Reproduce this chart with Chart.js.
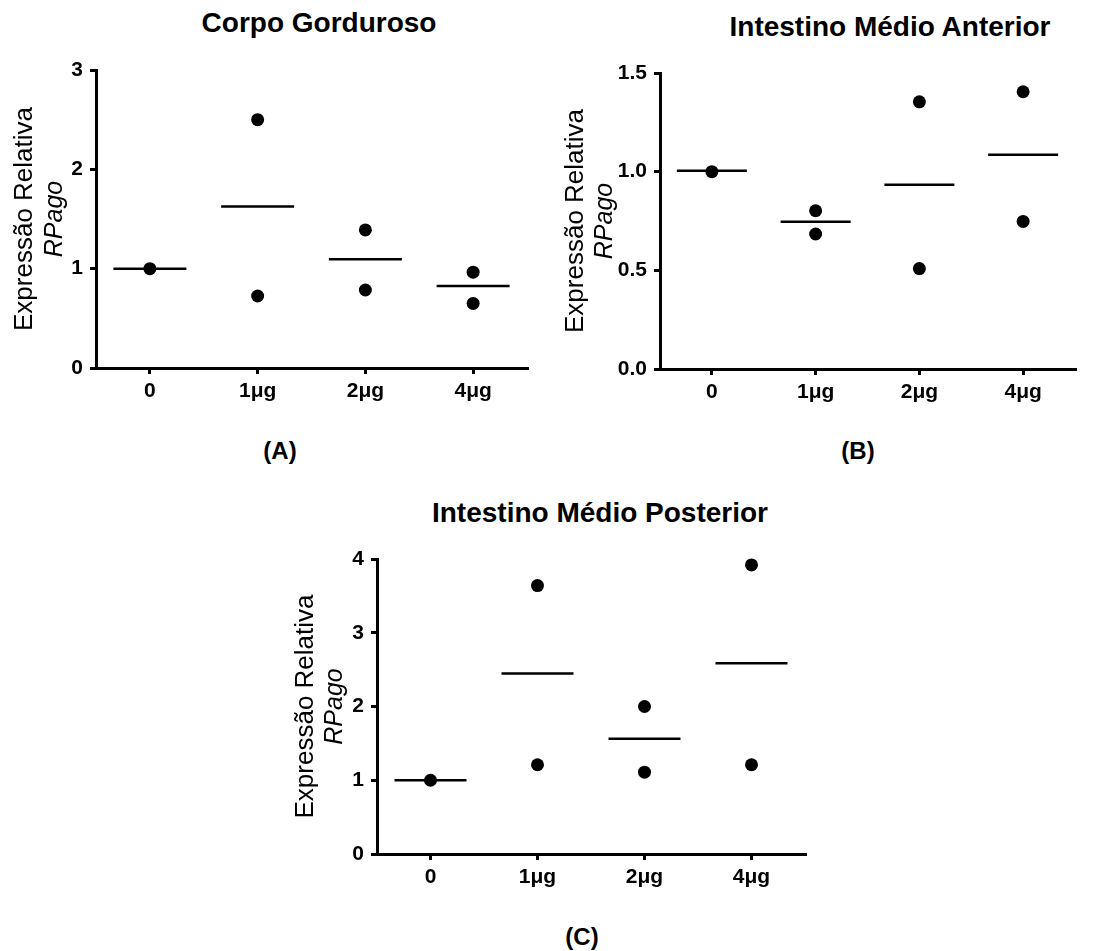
<!DOCTYPE html>
<html>
<head>
<meta charset="utf-8">
<script src="https://cdn.jsdelivr.net/npm/chart.js@4.4.0/dist/chart.umd.min.js"></script>
<style>
  body { margin: 0; background: #fff; width: 1112px; height: 951px; position: relative; overflow: hidden; font-family: 'Liberation Sans', Arial, sans-serif; }
  canvas { position: absolute; }
  .titulo { position: absolute; width: 600px; text-align: center; font-size: 28px; font-weight: bold; line-height: 1; color: #000; }
  .rotulo { position: absolute; width: 100px; text-align: center; font-size: 24px; font-weight: bold; line-height: 1; color: #000; }
</style>
</head>
<body>
<div class="titulo" style="left: 19px; top: 9px;">Corpo Gorduroso</div>
<div class="titulo" style="left: 590px; top: 13px;">Intestino Médio Anterior</div>
<div class="titulo" style="left: 300px; top: 499px;">Intestino Médio Posterior</div>
<div class="rotulo" style="left: 230px; top: 439px;">(A)</div>
<div class="rotulo" style="left: 808px; top: 439px;">(B)</div>
<div class="rotulo" style="left: 532px; top: 925px;">(C)</div>

<canvas id="graf-a" width="545" height="360" style="left: 0px; top: 50px;"></canvas>
<canvas id="graf-b" width="545" height="360" style="left: 555px; top: 50px;"></canvas>
<canvas id="graf-c" width="545" height="360" style="left: 280px; top: 535px;"></canvas>

<script>
const categories = ['0', '1μg', '2μg', '4μg'];

// Corpo Gorduroso
const corpoRep1 = [1.0, 2.50, 1.39, 0.965];
const corpoRep2 = [null, 0.725, 0.785, 0.65];
const corpoMedia = [1.0, 1.625, 1.095, 0.826];
const corpoTicks = [0, 1, 2, 3];

// Intestino Médio Anterior
const anteriorRep1 = [1.0, 0.802, 1.354, 1.405];
const anteriorRep2 = [null, 0.684, 0.509, 0.748];
const anteriorMedia = [1.005, 0.746, 0.934, 1.086];
const anteriorTicks = [0, 0.5, 1.0, 1.5];

// Intestino Médio Posterior
const posteriorRep1 = [1.0, 3.64, 2.0, 3.92];
const posteriorRep2 = [null, 1.21, 1.11, 1.21];
const posteriorMedia = [1.0, 2.447, 1.562, 2.588];
const posteriorTicks = [0, 1, 2, 3, 4];

Chart.defaults.font.family = "'Liberation Sans', Arial, sans-serif";
Chart.defaults.color = '#000';

// two-line y title, second line in italics
const yTitlePlugin = {
	id: 'yTitle',
	afterDraw(chart, args, opts) {
		const ctx = chart.ctx;
		const area = chart.chartArea;
		const cy = (area.top + area.bottom) / 2;
		ctx.save();
		ctx.fillStyle = '#000';
		ctx.textAlign = 'center';
		ctx.textBaseline = 'alphabetic';
		ctx.translate(area.left - opts.offsets[0], cy);
		ctx.rotate(-Math.PI / 2);
		ctx.font = "26px 'Liberation Sans', Arial, sans-serif";
		ctx.fillText('Expressão Relativa', 0, 0);
		ctx.restore();
		ctx.save();
		ctx.fillStyle = '#000';
		ctx.textAlign = 'center';
		ctx.textBaseline = 'alphabetic';
		ctx.translate(area.left - opts.offsets[1], cy);
		ctx.rotate(-Math.PI / 2);
		ctx.font = "italic 25px 'Liberation Sans', Arial, sans-serif";
		ctx.fillText('RPago', 0, 0);
		ctx.restore();
	}
};

function toPoints(values) {
	return categories.map((c, i) => ({ x: c, y: values[i] })).filter(p => p.y !== null);
}

function makeChart(id, cfg) {
	const pointStyle = { pointRadius: 6.5, pointHoverRadius: 6.5, backgroundColor: '#000', borderWidth: 0, clip: false };
	new Chart(document.getElementById(id), {
		type: 'scatter',
		data: {
			datasets: [
				{ ...pointStyle, data: toPoints(cfg.rep1) },
				{ ...pointStyle, data: toPoints(cfg.rep2) },
				{
					data: toPoints(cfg.media), pointStyle: 'line', pointRadius: cfg.lineHalf, pointHoverRadius: cfg.lineHalf,
					borderColor: '#000', borderWidth: 2.5, clip: false
				}
			]
		},
		options: {
			responsive: false,
			animation: false,
			layout: { autoPadding: false, padding: { left: 0, top: cfg.padTop, right: cfg.padRight, bottom: 0 } },
			plugins: { legend: { display: false }, tooltip: { enabled: false }, yTitle: { offsets: cfg.offsets } },
			scales: {
				x: {
					type: 'category',
					labels: categories,
					offset: true,
					afterFit: (s) => { s.height = cfg.xHeight; s.paddingLeft = 0; s.paddingRight = 0; },
					grid: { display: true, drawOnChartArea: false, offset: false, tickLength: 6, tickWidth: 3, tickColor: '#000', lineWidth: 3, color: '#000' },
					border: { display: true, width: 3, color: '#000' },
					ticks: { font: { size: 21, weight: 'bold' }, padding: 5, color: '#000', maxRotation: 0 }
				},
				y: {
					min: cfg.ticks[0],
					max: cfg.ticks[cfg.ticks.length - 1],
					afterFit: (s) => { s.width = cfg.yWidth; s.paddingTop = 0; s.paddingBottom = 0; },
					afterBuildTicks: (s) => { s.ticks = cfg.ticks.map(v => ({ value: v })); },
					grid: { display: true, drawOnChartArea: false, tickLength: 6, tickWidth: 3, tickColor: '#000', lineWidth: 3, color: '#000' },
					border: { display: true, width: 3, color: '#000' },
					ticks: {
						font: { size: 21, weight: 'bold' }, padding: 7, color: '#000',
						callback: (v) => cfg.decimals ? Number(v).toFixed(1) : String(v)
					}
				}
			}
		},
		plugins: [yTitlePlugin]
	});
}

makeChart('graf-a', {
	rep1: corpoRep1, rep2: corpoRep2, media: corpoMedia, ticks: corpoTicks, decimals: false,
	yWidth: 96, xHeight: 42, padTop: 20, padRight: 18, lineHalf: 36.5, offsets: [64, 34]
});

makeChart('graf-b', {
	rep1: anteriorRep1, rep2: anteriorRep2, media: anteriorMedia, ticks: anteriorTicks, decimals: true,
	yWidth: 105, xHeight: 41, padTop: 23, padRight: 25, lineHalf: 35, offsets: [77, 48]
});

makeChart('graf-c', {
	rep1: posteriorRep1, rep2: posteriorRep2, media: posteriorMedia, ticks: posteriorTicks, decimals: false,
	yWidth: 97, xHeight: 41, padTop: 24, padRight: 20, lineHalf: 36, offsets: [64, 35]
});
</script>
</body>
</html>
